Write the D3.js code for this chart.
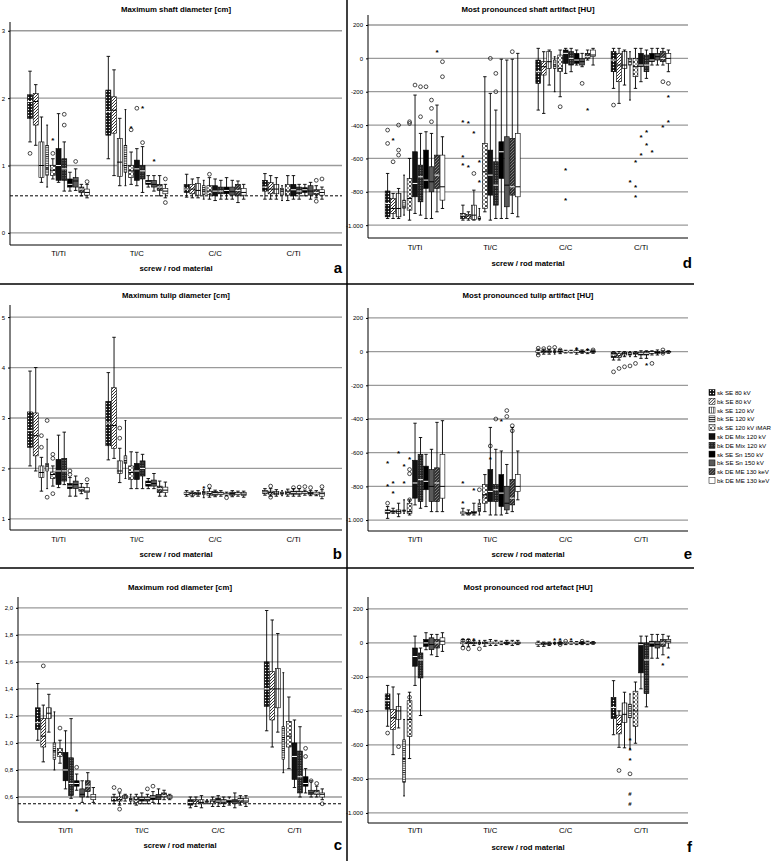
<!DOCTYPE html>
<html><head><meta charset="utf-8">
<script src="https://cdn.jsdelivr.net/npm/d3@7"></script>
<style>body{margin:0;background:#fff}svg{font-family:"Liberation Sans",Arial,sans-serif}</style>
</head><body><svg id="c" width="784" height="861"></svg>
<script>
const categories = ["Ti/Ti","Ti/C","C/C","C/Ti"];
const seriesNames = ["sk SE 80 kV","bk SE 80 kV","sk SE 120 kV","bk SE 120 kV","sk SE 120 kV iMAR","sk DE Mix 120 kV","bk DE Mix 120 kV","sk SE Sn 150 kV","bk SE Sn 150 kV","sk DE ME 130 keV","bk DE ME 130 keV"];
// each box: [min, q1, median, q3, max]
const shaftDiam = [
 [[1.35,1.7,1.95,2.05,2.4],[1.3,1.6,1.95,2.07,2.2],[0.75,0.82,1.0,1.35,1.72],[0.68,0.85,0.95,1.3,1.6],[0.8,0.85,0.93,1.0,1.1],[0.75,0.78,1.0,1.25,1.77],[0.62,0.78,0.95,1.1,1.35],[0.62,0.68,0.72,0.8,0.9],[0.63,0.68,0.77,0.82,0.95],[0.55,0.6,0.65,0.68,0.72],[0.52,0.56,0.6,0.65,0.72]],
 [[1.1,1.45,1.8,2.12,2.62],[0.85,1.48,1.82,2.02,2.42],[0.7,0.84,1.05,1.4,1.7],[0.7,0.9,1.0,1.3,1.83],[0.72,0.82,0.92,1.0,1.2],[0.7,0.78,0.95,1.08,1.25],[0.6,0.8,0.92,1.0,1.28],[0.68,0.72,0.75,0.78,0.85],[0.62,0.68,0.72,0.78,0.85],[0.55,0.63,0.68,0.72,0.85],[0.52,0.58,0.62,0.66,0.72]],
 [[0.53,0.6,0.65,0.72,0.87],[0.52,0.58,0.65,0.72,0.8],[0.52,0.56,0.63,0.73,0.82],[0.5,0.57,0.62,0.7,0.78],[0.5,0.57,0.62,0.7,0.82],[0.48,0.55,0.62,0.7,0.8],[0.5,0.58,0.62,0.68,0.78],[0.5,0.58,0.63,0.68,0.82],[0.5,0.56,0.61,0.68,0.78],[0.45,0.55,0.63,0.72,0.77],[0.5,0.56,0.6,0.66,0.72]],
 [[0.5,0.62,0.68,0.78,0.88],[0.5,0.58,0.65,0.75,0.85],[0.5,0.58,0.65,0.72,0.82],[0.48,0.56,0.62,0.66,0.7],[0.48,0.56,0.62,0.72,0.85],[0.5,0.55,0.64,0.72,0.85],[0.5,0.58,0.62,0.68,0.72],[0.55,0.6,0.64,0.67,0.72],[0.5,0.56,0.62,0.7,0.75],[0.52,0.57,0.6,0.64,0.7],[0.5,0.56,0.6,0.64,0.68]]];
// outliers: [group, series, value, type]
const shaftDiamOut = [[0,0,1.18,"o"],[0,4,1.18,"o"],[0,4,1.38,"*"],[0,6,1.6,"o"],[0,6,1.76,"o"],[0,8,1.06,"o"],[0,10,0.76,"o"],
 [1,4,1.55,"*"],[1,4,1.53,"o"],[1,5,1.85,"o"],[1,6,1.34,"o"],[1,6,1.85,"*"],[1,8,1.07,"*"],[1,10,0.8,"o"],[1,10,0.45,"o"],
 [2,4,0.87,"o"],[3,9,0.78,"o"],[3,10,0.8,"o"],[3,9,0.47,"o"]];
const tulipDiam = [
 [[2.05,2.42,2.75,3.12,3.93],[1.95,2.25,2.65,3.1,4.0],[1.55,1.82,1.92,2.05,2.22],[1.6,1.95,2.05,2.1,2.58],[1.65,1.8,1.88,1.93,2.05],[1.62,1.68,1.95,2.18,2.66],[1.68,1.75,1.95,2.2,2.72],[1.45,1.6,1.65,1.7,1.82],[1.45,1.6,1.68,1.75,1.85],[1.5,1.55,1.6,1.63,1.7],[1.4,1.52,1.55,1.62,1.7]],
 [[2.17,2.45,2.9,3.33,3.9],[2.2,2.4,2.85,3.6,4.6],[1.72,1.9,1.95,2.15,2.4],[1.8,2.1,2.15,2.25,2.95],[1.6,1.78,1.92,2.05,2.33],[1.6,1.78,1.95,2.1,2.32],[1.6,1.85,2.0,2.15,2.28],[1.6,1.65,1.7,1.75,1.8],[1.6,1.65,1.7,1.77,1.9],[1.45,1.52,1.6,1.65,1.75],[1.45,1.52,1.57,1.63,1.73]],
 [[1.45,1.48,1.51,1.53,1.56],[1.44,1.47,1.5,1.52,1.55],[1.45,1.48,1.5,1.52,1.56],[1.42,1.48,1.52,1.54,1.58],[1.43,1.47,1.5,1.54,1.6],[1.44,1.47,1.5,1.54,1.57],[1.45,1.48,1.5,1.53,1.56],[1.46,1.48,1.49,1.51,1.53],[1.44,1.47,1.5,1.53,1.56],[1.45,1.48,1.5,1.52,1.55],[1.43,1.46,1.49,1.52,1.55]],
 [[1.47,1.5,1.53,1.56,1.6],[1.45,1.49,1.52,1.55,1.6],[1.45,1.48,1.51,1.54,1.58],[1.46,1.49,1.51,1.53,1.56],[1.45,1.49,1.52,1.55,1.59],[1.45,1.49,1.52,1.55,1.6],[1.45,1.49,1.52,1.55,1.6],[1.47,1.5,1.52,1.54,1.57],[1.46,1.49,1.51,1.53,1.56],[1.46,1.49,1.51,1.53,1.56],[1.4,1.45,1.5,1.53,1.58]]];
const tulipDiamOut = [[0,2,2.42,"o"],[0,2,2.65,"o"],[0,3,1.43,"o"],[0,3,2.95,"o"],[0,4,1.5,"o"],[0,4,2.2,"o"],[0,4,2.28,"o"],[0,7,1.88,"o"],[0,7,1.95,"o"],[0,10,1.78,"o"],
 [1,2,2.6,"o"],[1,2,2.8,"o"],[2,3,1.62,"*"],[2,4,1.65,"o"],[2,7,1.42,"o"],[3,1,1.65,"o"],[3,1,1.43,"o"],[3,5,1.62,"o"],[3,6,1.63,"o"],[3,7,1.64,"o"],[3,8,1.62,"o"],[3,10,1.64,"o"]];
const rodDiam = [
 [[1.02,1.1,1.15,1.26,1.44],[0.86,0.97,1.05,1.18,1.28],[1.08,1.18,1.22,1.26,1.36],[0.8,0.88,0.94,1.0,1.23],[0.85,0.9,0.93,0.96,1.02],[0.66,0.72,0.8,0.93,1.09],[0.59,0.61,0.7,0.89,1.18],[0.65,0.68,0.7,0.72,0.77],[0.56,0.6,0.62,0.66,0.72],[0.6,0.64,0.68,0.72,0.78],[0.56,0.58,0.6,0.62,0.67]],
 [[0.55,0.57,0.59,0.6,0.62],[0.54,0.57,0.58,0.6,0.63],[0.57,0.59,0.6,0.61,0.62],[0.55,0.57,0.58,0.59,0.62],[0.54,0.56,0.58,0.6,0.62],[0.55,0.57,0.59,0.6,0.63],[0.55,0.57,0.59,0.6,0.62],[0.56,0.58,0.6,0.61,0.64],[0.55,0.58,0.6,0.62,0.66],[0.58,0.6,0.61,0.63,0.65],[0.58,0.59,0.6,0.61,0.62]],
 [[0.52,0.54,0.56,0.58,0.6],[0.53,0.55,0.57,0.58,0.6],[0.52,0.55,0.56,0.58,0.61],[0.55,0.56,0.57,0.57,0.58],[0.53,0.55,0.57,0.58,0.6],[0.53,0.56,0.57,0.59,0.61],[0.53,0.55,0.57,0.58,0.6],[0.54,0.56,0.58,0.58,0.6],[0.52,0.55,0.57,0.58,0.63],[0.54,0.56,0.58,0.59,0.61],[0.53,0.56,0.57,0.59,0.61]],
 [[1.09,1.27,1.4,1.6,1.98],[0.97,1.17,1.4,1.53,1.91],[1.08,1.26,1.4,1.55,1.81],[0.78,0.88,1.04,1.12,1.52],[0.81,0.97,1.05,1.16,1.34],[0.67,0.73,0.9,1.0,1.17],[0.6,0.63,0.75,0.94,1.12],[0.63,0.68,0.7,0.75,0.81],[0.6,0.62,0.63,0.65,0.72],[0.6,0.62,0.63,0.65,0.68],[0.58,0.6,0.62,0.63,0.66]]];
const rodDiamOut = [[0,1,1.57,"o"],[0,4,1.11,"o"],[0,7,0.82,"o"],[0,7,0.5,"*"],[1,0,0.67,"o"],[1,1,0.65,"o"],[1,1,0.51,"o"],[1,6,0.66,"o"],[1,7,0.68,"o"],[3,7,0.9,"o"],[3,7,0.96,"o"],[3,8,0.72,"o"],[3,9,0.7,"o"],[3,10,0.55,"o"]];
const shaftHU = [
 [[-960,-950,-870,-795,-690],[-960,-930,-900,-840,-810],[-960,-950,-900,-810,-780],[-940,-900,-890,-850,-700],[-970,-910,-840,-720,-600],[-930,-830,-750,-560,-220],[-940,-860,-710,-640,-450],[-960,-780,-730,-550,-440],[-960,-800,-740,-650,-450],[-920,-780,-700,-580,-280],[-900,-850,-770,-580,-470]],
 [[-970,-960,-940,-930,-880],[-970,-960,-945,-935,-920],[-970,-965,-940,-880,-790],[-970,-965,-960,-950,-900],[-920,-900,-680,-510,-110],[-970,-820,-700,-550,-210],[-960,-880,-760,-620,-310],[-960,-720,-560,-500,-5],[-960,-890,-760,-470,-10],[-930,-820,-770,-480,-5],[-950,-830,-770,-450,30]],
 [[-310,-150,-80,-10,60],[-330,-100,-50,-20,40],[-160,-60,-20,40,50],[-200,-60,-40,-10,10],[-230,-80,-60,20,50],[-90,-30,30,50,60],[-80,-40,0,40,60],[-40,-30,-10,30,50],[-50,-40,-20,0,30],[-10,0,10,30,50],[-40,10,20,50,60]],
 [[-180,-80,-10,40,60],[-270,-140,-40,30,60],[-160,-60,-40,40,50],[-250,-40,-20,0,40],[-180,-110,-50,0,60],[-140,-50,-40,30,60],[-120,-80,-40,20,50],[-40,-20,-10,30,60],[-40,-10,10,30,60],[-40,-20,0,40,60],[-80,-30,0,30,50]]];
const shaftHUOut = [[0,0,-430,"o"],[0,0,-510,"o"],[0,1,-490,"*"],[0,1,-620,"o"],[0,2,-400,"o"],[0,2,-550,"o"],[0,2,-580,"o"],[0,4,-380,"o"],[0,4,-390,"o"],[0,5,-160,"o"],[0,6,-350,"o"],[0,6,-170,"o"],[0,7,-170,"o"],[0,8,-250,"o"],[0,8,-300,"o"],[0,8,-380,"o"],[0,9,40,"*"],[0,10,-20,"o"],[0,10,-110,"o"],
 [1,0,-380,"*"],[1,0,-590,"*"],[1,0,-640,"*"],[1,1,-390,"*"],[1,1,-650,"*"],[1,2,-450,"*"],[1,2,-690,"o"],[1,3,-620,"*"],[1,3,-740,"*"],[1,5,0,"o"],[1,6,-90,"o"],[1,6,-200,"o"],[1,9,40,"o"],
 [2,4,-290,"o"],[2,8,-150,"o"],[2,9,-310,"*"],[2,5,-670,"*"],[2,5,-850,"*"],
 [3,0,-280,"o"],[3,9,-140,"o"],[3,10,-150,"o"],[3,10,-230,"*"],[3,10,-380,"*"],[3,9,-410,"*"],[3,6,-440,"*"],[3,6,-520,"*"],[3,5,-470,"*"],[3,5,-580,"*"],[3,4,-620,"*"],[3,4,-770,"*"],[3,3,-740,"*"],[3,4,-830,"*"],[3,7,-560,"*"]];
const tulipHU = [
 [[-990,-960,-950,-940,-920],[-960,-952,-950,-945,-930],[-980,-960,-950,-940,-900],[-960,-950,-945,-940,-880],[-970,-960,-950,-900,-880],[-910,-870,-780,-645,-425],[-930,-890,-760,-610,-510],[-920,-820,-770,-680,-610],[-950,-890,-800,-700,-580],[-950,-890,-780,-690,-420],[-950,-870,-800,-610,-410]],
 [[-970,-962,-958,-952,-930],[-970,-965,-960,-955,-940],[-970,-960,-955,-950,-900],[-970,-950,-940,-900,-880],[-950,-900,-850,-790,-730],[-970,-890,-830,-700,-450],[-970,-890,-820,-790,-580],[-970,-920,-840,-730,-590],[-960,-940,-900,-800,-670],[-950,-910,-870,-760,-450],[-880,-830,-800,-730,-590]],
 [[-15,-5,0,5,15],[-15,-5,0,5,15],[-15,-5,0,5,15],[-15,-5,0,5,15],[-12,-3,0,3,12],[-8,-3,0,3,8],[-8,-3,0,3,8],[-15,-5,0,5,15],[-10,-4,0,4,10],[-12,-4,0,4,12],[-10,-4,0,4,10]],
 [[-50,-35,-20,-5,0],[-50,-35,-25,-10,0],[-30,-20,-10,-5,0],[-30,-20,-15,-5,0],[-30,-15,-10,-5,0],[-40,-20,-10,-5,5],[-40,-20,-10,0,5],[-20,-10,-5,0,5],[-20,-10,-5,0,10],[-10,-5,0,0,5],[-10,-5,0,2,5]]];
const tulipHUOut = [[0,0,-900,"o"],[0,0,-800,"*"],[0,0,-660,"*"],[0,1,-780,"*"],[0,1,-840,"*"],[0,2,-600,"*"],[0,3,-680,"*"],[0,3,-780,"*"],[0,4,-640,"*"],[0,4,-700,"o"],[0,4,-725,"o"],[0,4,-880,"o"],
 [1,0,-780,"*"],[1,0,-900,"*"],[1,2,-820,"*"],[1,3,-820,"o"],[1,4,-860,"o"],[1,5,-560,"o"],[1,5,-640,"*"],[1,6,-400,"o"],[1,7,-410,"*"],[1,8,-350,"o"],[1,8,-385,"o"],[1,9,-440,"o"],[1,9,-470,"o"],
 [2,0,20,"o"],[2,0,-20,"o"],[2,1,18,"o"],[2,2,22,"o"],[2,3,25,"o"],[2,4,10,"o"],[2,7,15,"*"],[2,9,12,"*"],[2,10,10,"o"],
 [3,0,-120,"o"],[3,1,-100,"o"],[3,2,-90,"o"],[3,3,-85,"o"],[3,4,-70,"o"],[3,6,-80,"*"],[3,7,-70,"o"],[3,9,10,"o"],[3,9,-10,"o"]];
const rodHU = [
 [[-490,-390,-340,-300,-250],[-657,-510,-440,-392,-259],[-500,-450,-400,-375,-300],[-900,-820,-680,-570,-450],[-680,-550,-450,-340,-290],[-250,-137,-80,-30,40],[-427,-206,-100,-59,-30],[-40,-20,0,20,60],[-70,-40,-10,30,50],[-80,-30,0,20,50],[-50,-10,10,30,60]],
 [[-20,-5,0,5,20],[-20,-5,0,5,20],[-15,-5,0,5,15],[-10,-5,0,5,15],[-20,-5,0,5,15],[-15,-5,0,5,20],[-15,-5,0,5,15],[-10,-3,0,3,10],[-10,-5,0,5,15],[-15,-5,0,5,15],[-10,-5,0,5,15]],
 [[-20,-10,-5,0,10],[-20,-10,-5,0,5],[-15,-8,-5,0,5],[-10,-5,0,0,5],[-10,-5,0,3,10],[-10,-5,0,3,5],[-8,-3,0,3,8],[-10,-5,0,3,8],[-10,-5,-2,2,8],[-10,-5,0,5,10],[-8,-3,0,3,8]],
 [[-540,-445,-380,-320,-222],[-614,-535,-480,-425,-400],[-617,-467,-420,-353,-290],[-620,-440,-400,-360,-300],[-590,-490,-400,-284,-230],[-270,-176,-10,0,40],[-376,-298,-100,0,40],[-90,-20,0,10,50],[-90,-30,-10,10,50],[-70,-20,0,20,50],[-30,0,10,20,40]]];
const rodHUOut = [[0,0,-530,"o"],[0,2,-610,"o"],[0,4,-320,"o"],[1,0,15,"o"],[1,0,-30,"o"],[1,1,15,"o"],[1,1,-35,"o"],[1,2,20,"*"],[1,3,-35,"o"],
 [2,3,20,"*"],[2,4,20,"*"],[2,4,-10,"o"],[2,5,10,"o"],[2,6,15,"*"],[2,8,10,"o"],
 [3,1,-750,"o"],[3,3,-570,"*"],[3,3,-630,"*"],[3,3,-690,"*"],[3,3,-770,"o"],[3,3,-890,"#"],[3,3,-950,"#"],[3,9,-130,"*"],[3,10,-90,"*"]];

const yTicksCm = [0,1,2,3], yTicksTulip=[1,2,3,4,5], yTicksRod=[0.6,0.8,1.0,1.2,1.4,1.6,1.8,2.0], yTicksHU=[200,0,-200,-400,-600,-800,-1000];

const panels = [
 {t:"Maximum shaft diameter [cm]",L:"a",data:shaftDiam,out:shaftDiamOut,x0:10,x1:342,y0:22,y1:245,dom:[-0.18,3.13],ticks:yTicksCm,ref:0.55,ty:12,cy:256,xy:271},
 {t:"Maximum tulip diameter [cm]",L:"b",data:tulipDiam,out:tulipDiamOut,x0:10,x1:342,y0:305,y1:530,dom:[0.78,5.24],ticks:yTicksTulip,ty:298,cy:542,xy:557},
 {t:"Maximum rod diameter [cm]",L:"c",data:rodDiam,out:rodDiamOut,x0:18,x1:342,y0:597,y1:822,dom:[0.415,2.08],ticks:yTicksRod,ref:0.55,ty:590,cy:833,xy:848,comma:true},
 {t:"Most pronounced shaft artifact [HU]",L:"d",data:shaftHU,out:shaftHUOut,x0:368,x1:688,y0:15,y1:238,dom:[-1077,260],ticks:yTicksHU,ty:12,cy:250,xy:266,hu:true},
 {t:"Most pronounced tulip artifact [HU]",L:"e",data:tulipHU,out:tulipHUOut,x0:368,x1:688,y0:308,y1:531,dom:[-1065,259],ticks:yTicksHU,ty:298,cy:542,xy:557,hu:true},
 {t:"Most pronounced rod artefact [HU]",L:"f",data:rodHU,out:rodHUOut,x0:368,x1:688,y0:597,y1:823,dom:[-1059,270],ticks:yTicksHU,ty:590,cy:833,xy:850,hu:true}
];

const svg = d3.select("#c");
const defs = svg.append("defs");
function pat(id,w,h,bg,draw){const p=defs.append("pattern").attr("id",id).attr("patternUnits","userSpaceOnUse").attr("width",w).attr("height",h);p.append("rect").attr("width",w).attr("height",h).attr("fill",bg);draw(p);}
pat("p0",3,3,"#111",p=>p.append("circle").attr("cx",1.5).attr("cy",1.5).attr("r",0.7).attr("fill","#fff"));
pat("p1",3,3,"#fff",p=>p.append("path").attr("d","M-1,1L1,-1M0,3L3,0M2,4L4,2").attr("stroke","#333").attr("stroke-width",1));
pat("p2",2,2,"#fff",p=>p.append("rect").attr("width",1).attr("height",2).attr("fill","#777"));
pat("p3",3,2.2,"#fff",p=>p.append("rect").attr("width",3).attr("height",0.9).attr("fill","#222"));
pat("p4",4,4,"#fff",p=>p.append("path").attr("d","M0.5,0.5L3.5,3.5M3.5,0.5L0.5,3.5").attr("stroke","#222").attr("stroke-width",0.8));
pat("p6",2.5,2.5,"#222",p=>p.append("rect").attr("width",1).attr("height",1).attr("fill","#888"));
pat("p9",3,3,"#333",p=>p.append("path").attr("d","M-1,1L1,-1M0,3L3,0M2,4L4,2").attr("stroke","#999").attr("stroke-width",0.7));
const fills = ["url(#p0)","url(#p1)","url(#p2)","url(#p3)","url(#p4)","#111","url(#p6)","#000","#5a5a5a","url(#p9)","#fff"];
const medCol = ["#fff","#000","#000","#000","#000","#fff","#fff","#fff","#000","#fff","#000"];
const fmt = (p,v)=> p.hu ? (v===-1000?"-1.000":String(v)) : (p.comma? d3.format(".1f")(v).replace(".",",") : String(v));

panels.forEach(p=>{
  const g = svg.append("g");
  const y = d3.scaleLinear().domain(p.dom).range([p.y1,p.y0]);
  const xg = d3.scaleBand().domain(categories).range([p.x0+9,p.x1-9]).paddingInner(0.19).paddingOuter(0.1);
  const xs = d3.scaleBand().domain(d3.range(11)).range([0,xg.bandwidth()]).padding(0.12);
  g.selectAll(".gr").data(p.ticks).join("line").attr("x1",p.x0).attr("x2",p.x1).attr("y1",d=>y(d)).attr("y2",d=>y(d)).attr("stroke","#9a9a9a").attr("stroke-width",1.3);
  const ax = g.append("g").attr("transform",`translate(${p.x0},0)`).call(d3.axisLeft(y).tickValues(p.ticks).tickSize(2).tickFormat(v=>fmt(p,v)));
  ax.select(".domain").remove();
  ax.selectAll("text").attr("font-size",6).attr("fill","#000");
  g.append("line").attr("x1",p.x0).attr("x2",p.x0).attr("y1",p.y0).attr("y2",p.y1).attr("stroke","#000");
  g.append("line").attr("x1",p.x0).attr("x2",p.x1).attr("y1",p.y1).attr("y2",p.y1).attr("stroke","#000");
  if(p.ref!==undefined) g.append("line").attr("x1",p.x0).attr("x2",p.x1).attr("y1",y(p.ref)).attr("y2",y(p.ref)).attr("stroke","#000").attr("stroke-dasharray","3,2");
  const bw = xs.bandwidth();
  p.data.forEach((grp,gi)=>{
    grp.forEach((b,si)=>{
      const cx = xg(categories[gi])+xs(si)+bw/2;
      const w = si===3? bw*0.55 : bw;
      const bg = g.append("g");
      bg.append("line").attr("x1",cx).attr("x2",cx).attr("y1",y(b[0])).attr("y2",y(b[4])).attr("stroke","#000").attr("stroke-width",0.9);
      [b[0],b[4]].forEach(v=>bg.append("line").attr("x1",cx-w*0.35).attr("x2",cx+w*0.35).attr("y1",y(v)).attr("y2",y(v)).attr("stroke","#000").attr("stroke-width",0.9));
      bg.append("rect").attr("x",cx-w/2).attr("width",w).attr("y",y(b[3])).attr("height",Math.max(0.8,y(b[1])-y(b[3]))).attr("fill",fills[si]).attr("stroke","#000").attr("stroke-width",0.6);
      bg.append("line").attr("x1",cx-w/2).attr("x2",cx+w/2).attr("y1",y(b[2])).attr("y2",y(b[2])).attr("stroke",medCol[si]).attr("stroke-width",1);
    });
  });
  p.out.forEach(o=>{
    const cx = xg(categories[o[0]])+xs(o[1])+bw/2;
    if(o[3]==="o") g.append("circle").attr("cx",cx).attr("cy",y(o[2])).attr("r",1.9).attr("fill","none").attr("stroke","#000").attr("stroke-width",0.7);
    else g.append("text").attr("x",cx).attr("y",y(o[2])+(o[3]==="*"?3:2)).attr("text-anchor","middle").attr("font-size",o[3]==="*"?8:6).attr("font-weight","bold").text(o[3]);
  });
  const mid=(p.x0+p.x1)/2;
  g.append("text").attr("x",mid).attr("y",p.ty).attr("text-anchor","middle").attr("font-size",7.8).attr("font-weight","bold").text(p.t);
  g.selectAll(".cl").data(categories).join("text").attr("x",d=>xg(d)+xg.bandwidth()/2).attr("y",p.cy).attr("text-anchor","middle").attr("font-size",7.8).text(d=>d);
  g.append("text").attr("x",mid).attr("y",p.xy).attr("text-anchor","middle").attr("font-size",7.8).attr("font-weight","bold").text("screw / rod material");
  g.append("text").attr("x",p.hu?692:342).attr("y",p.xy+2).attr("text-anchor","end").attr("font-size",15).attr("font-weight","bold").text(p.L);
});
svg.append("line").attr("x1",347).attr("x2",347).attr("y1",0).attr("y2",861).attr("stroke","#000").attr("stroke-width",1.5);
[284,568].forEach(v=>svg.append("line").attr("x1",0).attr("x2",694).attr("y1",v).attr("y2",v).attr("stroke","#000").attr("stroke-width",1.5));
const lg = svg.append("g").attr("transform","translate(709,395)");
seriesNames.forEach((n,i)=>{
  const r = lg.append("g").attr("transform",`translate(0,${i*8.8})`);
  r.append("rect").attr("x",0).attr("y",-5.5).attr("width",6).attr("height",6).attr("fill",fills[i]).attr("stroke","#000").attr("stroke-width",0.5);
  r.append("text").attr("x",8).attr("y",0).attr("font-size",6.2).text(n);
});
</script></body></html>
